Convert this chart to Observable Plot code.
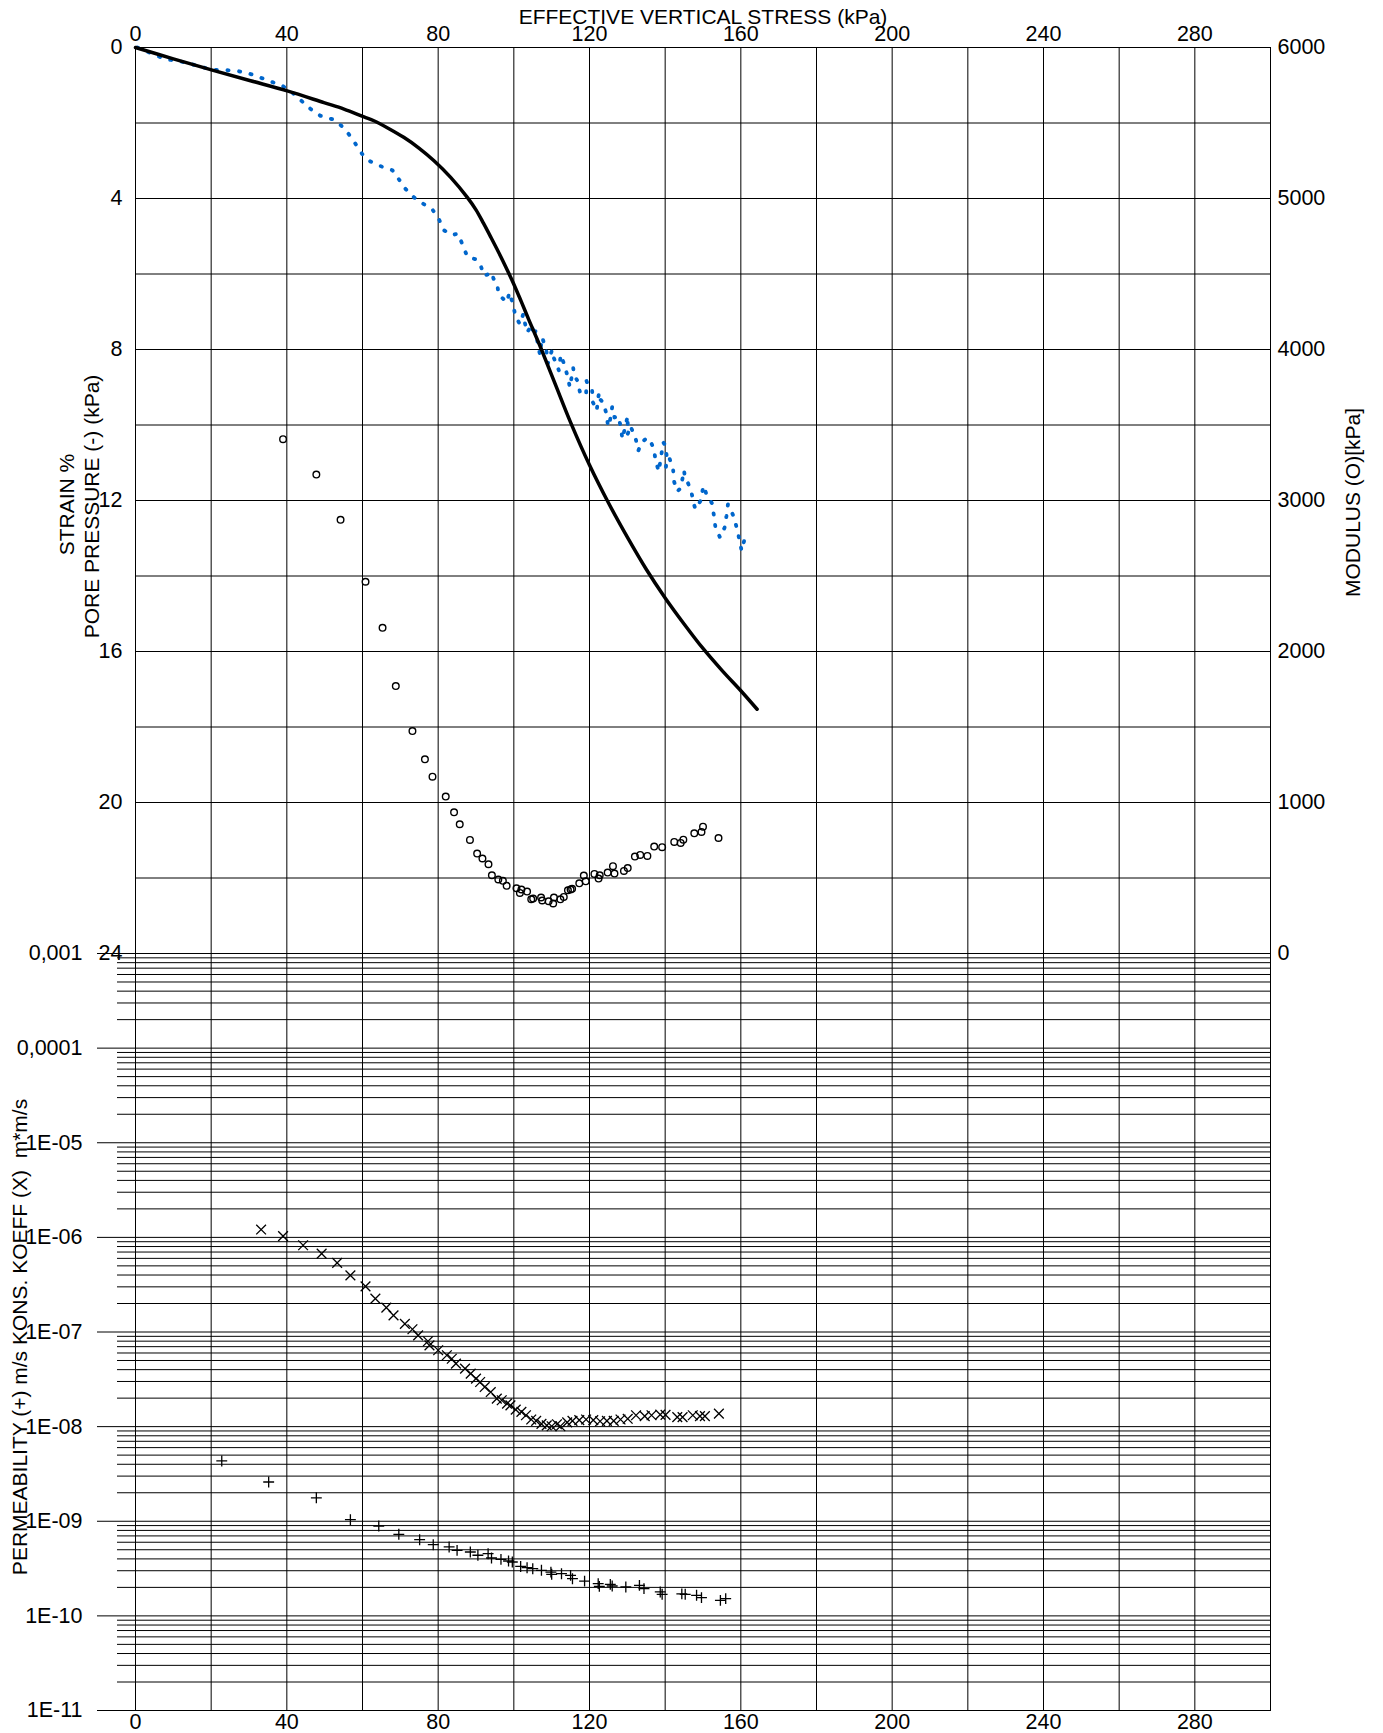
<!DOCTYPE html>
<html>
<head>
<meta charset="utf-8">
<script src="https://cdn.jsdelivr.net/npm/d3@7"></script>
<script src="https://cdn.jsdelivr.net/npm/@observablehq/plot@0.6"></script>
<style>
  body { margin: 0; background: #fff; }
  #wrap { position: relative; width: 1383px; height: 1733px; }
  #wrap svg { position: absolute; left: 0; top: 0; }
</style>
</head>
<body>
<div id="wrap"></div>
<script>
// ---------- tick values and labels ----------
const stressTicks = [0, 40, 80, 120, 160, 200, 240, 280];
const strainTicks = [0, 4, 8, 12, 16, 20, 24];
const modulusTicks = [0, 1000, 2000, 3000, 4000, 5000, 6000];
const logTicks = [1e-3, 1e-4, 1e-5, 1e-6, 1e-7, 1e-8, 1e-9, 1e-10, 1e-11];
const logTickLabels = ["0,001", "0,0001", "1E-05", "1E-06", "1E-07", "1E-08", "1E-09", "1E-10", "1E-11"];

const xTitle = "EFFECTIVE VERTICAL STRESS (kPa)";
const strainTitle = "STRAIN %";
const poreTitle = "PORE PRESSURE (-) (kPa)";
const modulusTitle = "MODULUS (O)[kPa]";
const permTitle = "PERMEABILITY (+) m/s KONS. KOEFF (X)\u00a0\u00a0m*m/s";

// ---------- strain curve (black) ----------
const strainStress = [0, 10, 20.3, 30.4, 40.1, 49.8, 55.1, 60.4, 63, 67, 70.9, 75, 78.9, 83.3, 87.7, 90, 92, 94, 96, 98, 100, 102, 104, 106, 107.3, 111, 115, 120, 125, 130, 135, 140, 145, 150, 155, 160, 164.3];
const strainValues = [0, 0.3, 0.6, 0.88, 1.15, 1.46, 1.63, 1.84, 1.94, 2.15, 2.38, 2.67, 3.0, 3.44, 3.97, 4.3, 4.66, 5.04, 5.43, 5.84, 6.27, 6.74, 7.22, 7.69, 8.0, 8.93, 9.93, 11.06, 12.06, 12.97, 13.82, 14.58, 15.27, 15.92, 16.5, 17.04, 17.53];

// ---------- pore pressure (blue dotted) ----------
const poreStress = [0.5, 4.8, 7.9, 11.0, 14.1, 17.2, 20.3, 23.8, 26.9, 30.0, 32.6, 35.7, 38.8, 41.4, 43.6, 46.3, 48.9, 52.0, 54.4, 56.4, 58.2, 59.9, 62.1, 65.2, 67.9, 69.6, 71.4, 73.6, 76.2, 78.4, 80.2, 81.5, 83.7, 85.2, 86.4, 87.7, 89.9, 91.2, 92.1, 94.3, 94.6, 95.6, 96.0, 98.2, 98.8, 99.8, 100.4, 101.6, 102.5, 102.8, 103.5, 104.9, 105.0, 105.8, 106.2, 106.9, 107.1, 107.5, 108.6, 109.0, 110.1, 110.6, 111.9, 112.4, 113.3, 114.3, 114.8, 115.7, 115.9, 116.8, 117.5, 119.1, 119.2, 119.8, 120.7, 120.9, 121.9, 122.5, 122.7, 123.6, 124.5, 124.9, 125.4, 126.0, 126.6, 127.6, 128.2, 128.7, 130.1, 130.1, 130.8, 132.2, 132.9, 133.8, 135.1, 135.9, 137.0, 137.5, 138.3, 139.5, 140.1, 140.4, 140.2, 141.2, 142.1, 142.3, 143.2, 144.1, 145.0, 145.2, 145.8, 146.9, 147.6, 148.0, 149.4, 150.1, 150.9, 152.4, 152.9, 153.3, 154.5, 155.7, 156.2, 156.6, 157.1, 158.2, 159.0, 159.7, 160.2, 161.0, 162.8];
const poreValues = [0.0, 0.18, 0.31, 0.35, 0.42, 0.51, 0.59, 0.6, 0.62, 0.69, 0.78, 0.9, 1.01, 1.19, 1.39, 1.63, 1.81, 1.9, 2.07, 2.3, 2.56, 2.82, 3.02, 3.16, 3.25, 3.49, 3.75, 3.97, 4.15, 4.28, 4.55, 4.84, 4.97, 4.93, 5.21, 5.54, 5.61, 5.76, 6.05, 5.96, 6.12, 6.27, 6.55, 6.75, 6.49, 6.8, 7.11, 7.33, 7.06, 7.24, 7.55, 7.33, 7.64, 7.5, 7.77, 8.14, 7.95, 7.68, 8.03, 8.37, 8.01, 8.23, 8.55, 8.14, 8.39, 8.74, 9.0, 8.49, 8.67, 8.83, 9.14, 9.21, 8.83, 9.01, 9.09, 9.4, 9.62, 9.14, 9.31, 9.4, 9.71, 10.04, 9.89, 9.52, 9.8, 9.76, 10.02, 10.37, 9.76, 10.24, 10.02, 10.36, 10.68, 10.46, 10.35, 10.37, 10.64, 10.95, 11.23, 10.46, 10.55, 10.82, 11.13, 10.9, 11.17, 11.48, 11.76, 11.67, 11.2, 11.39, 11.48, 11.76, 12.1, 12.23, 12.0, 11.61, 11.83, 12.08, 12.41, 12.72, 12.98, 12.72, 12.41, 12.1, 12.19, 12.45, 12.76, 13.07, 13.33, 13.02, 13.09];

// ---------- modulus (circles, right axis) ----------
const modStress = [39.0, 47.8, 54.2, 60.8, 65.3, 68.8, 73.2, 76.5, 78.5, 82.0, 84.2, 85.7, 88.4, 90.3, 91.7, 93.3, 94.2, 95.9, 97.1, 98.1, 100.7, 101.6, 102.0, 103.5, 104.6, 105.1, 107.2, 107.5, 109.2, 110.6, 110.4, 112.3, 113.2, 114.3, 115.0, 115.4, 117.3, 118.5, 119.0, 121.3, 122.4, 122.7, 124.8, 126.2, 126.6, 129.1, 130.1, 132.0, 133.4, 135.3, 137.1, 139.2, 142.4, 144.1, 144.8, 147.7, 149.6, 150.0, 154.1];
const modValues = [3406, 3172, 2872, 2462, 2157, 1771, 1473, 1286, 1171, 1039, 935, 856, 752, 662, 629, 591, 518, 490, 481, 448, 432, 401, 424, 410, 359, 364, 371, 351, 346, 371, 331, 359, 375, 419, 424, 428, 465, 516, 478, 527, 496, 518, 536, 578, 529, 547, 566, 642, 653, 646, 708, 704, 739, 732, 754, 796, 805, 840, 765];

// ---------- consolidation coefficient (X, log) ----------
const consStress = [33.2, 39.0, 44.3, 49.2, 53.3, 56.8, 60.8, 63.4, 66.3, 68.2, 71.2, 73.2, 74.7, 77.3, 77.7, 80.0, 82.3, 83.6, 84.7, 87.1, 88.6, 90.0, 91.1, 92.3, 93.9, 95.5, 96.8, 98.2, 99.1, 100.5, 102.0, 103.2, 104.6, 105.9, 107.3, 108.7, 110.0, 111.4, 112.3, 114.1, 115.5, 117.3, 119.1, 121.0, 122.8, 124.6, 126.4, 128.2, 130.1, 132.3, 134.6, 136.4, 138.7, 140.1, 143.2, 144.6, 147.3, 149.2, 150.5, 154.2];
const consValues = [1.21e-6, 1.03e-6, 8.26e-7, 6.73e-7, 5.37e-7, 3.97e-7, 3.04e-7, 2.25e-7, 1.81e-7, 1.50e-7, 1.22e-7, 1.07e-7, 9.2e-8, 7.98e-8, 7.23e-8, 6.41e-8, 5.68e-8, 5.22e-8, 4.63e-8, 4.10e-8, 3.63e-8, 3.21e-8, 2.96e-8, 2.62e-8, 2.32e-8, 1.98e-8, 1.90e-8, 1.75e-8, 1.68e-8, 1.51e-8, 1.43e-8, 1.32e-8, 1.19e-8, 1.15e-8, 1.07e-8, 1.03e-8, 1.01e-8, 1.06e-8, 1.01e-8, 1.11e-8, 1.15e-8, 1.17e-8, 1.19e-8, 1.17e-8, 1.14e-8, 1.15e-8, 1.15e-8, 1.19e-8, 1.21e-8, 1.32e-8, 1.29e-8, 1.32e-8, 1.34e-8, 1.33e-8, 1.26e-8, 1.26e-8, 1.32e-8, 1.29e-8, 1.29e-8, 1.37e-8];

// ---------- permeability (+, log) ----------
const permStress = [22.8, 35.2, 47.8, 56.8, 64.3, 69.6, 75.1, 78.7, 82.9, 85.0, 88.5, 90.5, 93.2, 94.1, 96.6, 98.6, 99.6, 101.8, 103.5, 105.0, 107.3, 109.8, 110.0, 112.6, 115.0, 115.5, 118.7, 122.3, 122.6, 125.5, 126.0, 129.6, 133.2, 134.4, 138.7, 139.2, 144.4, 145.3, 148.3, 149.6, 154.6, 156.0];
const permValues = [4.34e-9, 2.60e-9, 1.77e-9, 1.04e-9, 8.91e-10, 7.28e-10, 6.38e-10, 5.65e-10, 5.35e-10, 4.92e-10, 4.73e-10, 4.37e-10, 4.54e-10, 4.09e-10, 3.95e-10, 3.80e-10, 3.71e-10, 3.33e-10, 3.23e-10, 3.15e-10, 3.03e-10, 2.90e-10, 2.75e-10, 2.79e-10, 2.68e-10, 2.47e-10, 2.33e-10, 2.19e-10, 2.05e-10, 2.15e-10, 2.07e-10, 2.02e-10, 2.10e-10, 1.94e-10, 1.79e-10, 1.69e-10, 1.71e-10, 1.69e-10, 1.65e-10, 1.56e-10, 1.46e-10, 1.52e-10];

// ---------- tables ----------
const strainTable = strainStress.map((s, i) => ({stress: s, v: strainValues[i]}));
const poreTable = poreStress.map((s, i) => ({stress: s, v: poreValues[i]}));
const modTable = modStress.map((s, i) => ({stress: s, v: modValues[i]}));
const consTable = consStress.map((s, i) => ({stress: s, v: consValues[i]}));
const permTable = permStress.map((s, i) => ({stress: s, v: permValues[i]}));

const xGrid = d3.range(0, 301, 20);
const strainGrid = d3.range(0, 25, 2);
const minorTicks = [];
for (let e = -11; e < -3; e++) for (let m = 2; m <= 9; m++) minorTicks.push(m * Math.pow(10, e));

// ---------- layout ----------
const W = 1383, H = 1733;
const frameTop = 47, frameMid = 953, frameBottom = 1710;
const font = "'Liberation Sans', Arial, Helvetica, sans-serif";
const tickFont = 21.5;
const titleFont = 21;
const base = {
  width: W, height: H, marginLeft: 135, marginRight: 113,
  style: {background: "transparent", fontFamily: font, fontSize: tickFont + "px", color: "#000", overflow: "visible"}
};

const plotA = Plot.plot({
  ...base, marginTop: frameTop, marginBottom: H - frameMid,
  x: {domain: [0, 300]},
  y: {domain: [0, 24], reverse: true},
  marks: [
    Plot.ruleX(xGrid, {stroke: "#000", strokeWidth: 1}),
    Plot.ruleY(strainGrid, {stroke: "#000", strokeWidth: 1}),
    Plot.axisX({anchor: "top", ticks: stressTicks, tickSize: 0, tickPadding: 7, label: null, tickFormat: d => String(d)}),
    Plot.axisY({anchor: "left", ticks: strainTicks, tickSize: 0, tickPadding: 13, label: null, tickFormat: d => String(d)}),
    Plot.line(poreTable, {x: "stress", y: "v", stroke: "#0066cc", strokeWidth: 3.8, strokeDasharray: "1.2 10.5", strokeLinecap: "round"}),
    Plot.line(strainTable, {x: "stress", y: "v", stroke: "#000", strokeWidth: 3.5, curve: "catmull-rom"}),
    Plot.text([xTitle], {text: d => d, frameAnchor: "top", textAnchor: "middle", lineAnchor: "middle", dy: -30.5, fontSize: titleFont}),
    Plot.text([strainTitle], {text: d => d, frameAnchor: "left", textAnchor: "middle", lineAnchor: "middle", dx: -68, dy: 4, rotate: -90, fontSize: titleFont}),
    Plot.text([poreTitle], {text: d => d, frameAnchor: "left", textAnchor: "middle", lineAnchor: "middle", dx: -43, dy: 6, rotate: -90, fontSize: titleFont}),
    Plot.frame({stroke: "#000"})
  ]
});

const plotC = Plot.plot({
  ...base, marginTop: frameMid, marginBottom: H - frameBottom,
  x: {domain: [0, 300]},
  y: {type: "log", domain: [1e-11, 1e-3]},
  marks: [
    Plot.ruleX(xGrid, {stroke: "#000", strokeWidth: 1}),
    Plot.ruleY(minorTicks, {stroke: "#000", strokeWidth: 1}),
    Plot.ruleY(logTicks, {stroke: "#000", strokeWidth: 1}),
    Plot.axisY({anchor: "left", ticks: minorTicks, tickSize: 18, tickFormat: () => "", label: null}),
    Plot.axisY({anchor: "left", ticks: logTicks, tickSize: 38, tickPadding: 15, tickFormat: d => logTickLabels[logTicks.indexOf(d)], label: null}),
    Plot.axisX({anchor: "bottom", ticks: stressTicks, tickSize: 0, tickPadding: 3, label: null, tickFormat: d => String(d)}),
    Plot.dot(consTable, {x: "stress", y: "v", symbol: "times", r: 4.5, stroke: "#000", strokeWidth: 1.3}),
    Plot.dot(permTable, {x: "stress", y: "v", symbol: "plus", r: 3.6, stroke: "#000", strokeWidth: 1.3}),
    Plot.text([permTitle], {text: d => d, frameAnchor: "left", textAnchor: "middle", lineAnchor: "middle", dx: -115, dy: 5, rotate: -90, fontSize: titleFont}),
    Plot.frame({stroke: "#000"})
  ]
});

const plotB = Plot.plot({
  ...base, marginTop: frameTop, marginBottom: H - frameMid,
  x: {domain: [0, 300], axis: null},
  y: {domain: [0, 6000]},
  marks: [
    Plot.axisY({anchor: "right", ticks: modulusTicks, tickSize: 0, tickPadding: 7, label: null, tickFormat: d => String(d)}),
    Plot.dot(modTable, {x: "stress", y: "v", r: 3.3, stroke: "#000", strokeWidth: 1.4, fill: "none"}),
    Plot.text([modulusTitle], {text: d => d, frameAnchor: "right", textAnchor: "middle", lineAnchor: "middle", dx: 83, dy: 2, rotate: -90, fontSize: titleFont})
  ]
});

const wrap = document.getElementById("wrap");
wrap.append(plotA, plotC, plotB);
</script>
</body>
</html>
